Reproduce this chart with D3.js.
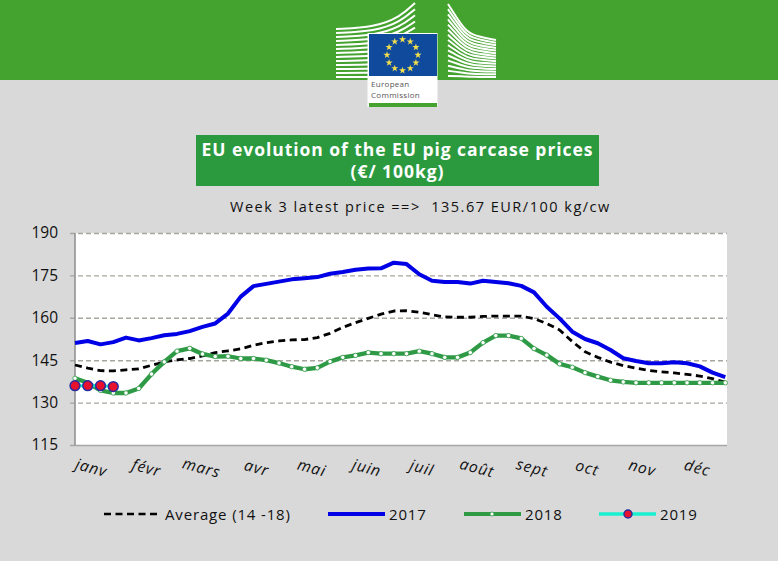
<!DOCTYPE html>
<html><head><meta charset="utf-8">
<script src="https://cdnjs.cloudflare.com/ajax/libs/d3/7.8.5/d3.min.js"></script>
<style>html,body{margin:0;padding:0;background:#d9d9d9}svg{display:block}text{font-family:"Open Sans",Lato,sans-serif}</style>
</head><body><svg id="c" width="778" height="561"></svg>
<script>
const months=["janv","févr","mars","avr","mai","juin","juil","août","sept","oct","nov","déc"];
const yTicks=[115,130,145,160,175,190];
const average=[143.3,142.2,141.3,141.2,141.6,141.9,143.2,144.4,145.1,145.6,146.5,147.7,148.3,149,150.3,151.2,151.8,152.2,152.3,153,154.5,156.6,158.3,159.8,161.3,162.4,162.5,162,161.1,160.3,160.2,160.2,160.5,160.6,160.6,160.6,159.7,158,155.7,151.6,148,146,144.3,143.1,142.2,141.4,140.9,140.5,140,139.4,138.5,137.2];
const s2017=[151.1,151.8,150.6,151.4,153,152,152.8,153.8,154.3,155.3,156.8,158,161.5,167.5,171.2,172,172.8,173.6,174,174.4,175.6,176.2,177,177.4,177.5,179.5,179,175.4,173.1,172.7,172.7,172.1,173.1,172.7,172.2,171.3,169,163.9,159.8,155.1,152.5,151,148.6,145.7,144.7,143.9,143.9,144.3,143.9,142.8,140.6,139];
const s2018=[138.6,137,134.3,133.4,133.4,135,140.1,144.4,148.2,149.2,147.2,146.3,146.4,145.6,145.6,145,144,142.7,141.8,142.3,144.5,146,146.7,147.7,147.3,147.3,147.3,148.2,147.3,146,146,147.7,151.2,153.7,153.7,152.7,149.1,146.8,143.7,142.5,140.6,139.2,137.9,137.3,137,137,137,137,137,137,137,137];
const s2019=[136,136,136,135.67];
const legendLabels=["Average (14 -18)","2017","2018","2019"];
const titleLines=["EU evolution of the EU pig carcase prices","(€/ 100kg)"];
const subtitle="Week 3 latest price ==>  135.67 EUR/100 kg/cw";

const svg=d3.select("#c");
const ink="#111";
svg.append("rect").attr("width",778).attr("height",561).attr("fill","#d9d9d9");
svg.append("rect").attr("width",778).attr("height",80).attr("fill","#44a32f");

const logo=svg.append("g");
const line=d3.line().curve(d3.curveBasis);
d3.range(13).forEach(k=>{
  const t=k/12, yb=77-t*48;
  logo.append("path").attr("fill","none").attr("stroke","#fff").attr("stroke-width",2)
   .attr("d",line([[336,yb],[375,yb-t*2],[400,yb-t*12],[415,yb-t*26]]));
});
d3.range(15).forEach(k=>{
  const t=k/14, yl=76-t*72, yr=77-t*37;
  logo.append("path").attr("fill","none").attr("stroke","#fff").attr("stroke-width",2)
   .attr("d",line([[448,yl],[462,yl+t*22],[470,yr-t*5],[496,yr]]));
});
logo.append("rect").attr("x",367.5).attr("y",33).attr("width",70).attr("height",74).attr("fill","#fff");
logo.append("rect").attr("x",369).attr("y",34).attr("width",68).attr("height",42).attr("fill","#0f4a9c");
logo.append("rect").attr("x",369).attr("y",103).attr("width",68).attr("height",4).attr("fill","#44a32f");
const star=d3.symbol().type(d3.symbolStar).size(16);
d3.range(12).forEach(i=>{
  const a=i/12*2*Math.PI;
  logo.append("path").attr("d",star).attr("fill","#f4e04d")
   .attr("transform",`translate(${402.5+15.5*Math.sin(a)},${55-15.5*Math.cos(a)})`);
});
logo.append("text").attr("x",371).attr("y",87).attr("font-size",8).attr("letter-spacing",0.3).attr("fill","#555").text("European");
logo.append("text").attr("x",371).attr("y",98).attr("font-size",8).attr("letter-spacing",0.3).attr("fill","#555").text("Commission");

svg.append("rect").attr("x",196).attr("y",135).attr("width",403).attr("height",51).attr("fill","#2b9a3f");
svg.selectAll("text.t").data(titleLines).join("text").attr("class","t")
  .attr("x",397.5).attr("y",(d,i)=>156+i*22).attr("text-anchor","middle")
  .attr("fill","#fff").attr("font-weight",700).attr("font-size",17.5).attr("letter-spacing",0.95).text(d=>d);
svg.append("text").attr("x",230).attr("y",212).attr("font-size",14.5).attr("letter-spacing",1.5)
  .attr("fill",ink).style("white-space","pre").text(subtitle);

const x=d3.scaleLinear().domain([0,51]).range([75,725.3]);
const y=d3.scaleLinear().domain([115,190]).range([445,233]);
svg.append("rect").attr("x",75).attr("y",233).attr("width",652).attr("height",212).attr("fill","#fff");
const gy=svg.append("g").attr("transform","translate(75,0)")
  .call(d3.axisLeft(y).tickValues(yTicks).tickSize(0).tickPadding(17).tickFormat(d3.format("d")));
gy.select(".domain").remove();
gy.selectAll("text").attr("font-size",15.5).attr("fill",ink).style("font-family","'Open Sans'");
gy.selectAll(".tick line").attr("x1",-5).attr("x2",652)
  .attr("stroke",d=>d===115?"#a6a6a6":"#a9a5a0").attr("stroke-width",d=>d===115?1.5:1.4)
  .attr("stroke-dasharray",d=>d===115?null:"5 3");
svg.append("line").attr("x1",75).attr("x2",75).attr("y1",233).attr("y2",445).attr("stroke","#8c8c8c").attr("stroke-width",1.5);

const mx=d3.scalePoint().domain(months).range([90,696]);
svg.selectAll("text.m").data(months).join("text").attr("class","m")
  .attr("text-anchor","middle").attr("font-size",15.5).attr("font-style","italic").attr("fill",ink)
  .attr("letter-spacing",0.9)
  .attr("transform",d=>`translate(${mx(d)},${473}) rotate(15)`).text(d=>d);

const path=d3.line().x((d,i)=>x(i)).y(d=>y(d));
const s1=svg.append("g").attr("fill","none").attr("stroke-linejoin","round");
s1.append("path").attr("d",path(s2017)).attr("stroke","#0000e6").attr("stroke-width",4);
s1.append("path").attr("d",path(average)).attr("stroke","#000").attr("stroke-width",2.8).attr("stroke-dasharray","7 4.5");
s1.append("path").attr("d",path(s2018)).attr("stroke","#2f9a45").attr("stroke-width",4.3);
svg.selectAll("circle.w").data(s2018).join("circle").attr("class","w")
  .attr("cx",(d,i)=>x(i)).attr("cy",d=>y(d)).attr("r",2.2).attr("fill","#fff").attr("stroke","#2f9a45").attr("stroke-width",0.8);
s1.append("path").attr("d",path(s2019)).attr("stroke","#19f0d0").attr("stroke-width",3);
svg.selectAll("circle.r").data(s2019).join("circle").attr("class","r")
  .attr("cx",(d,i)=>x(i)).attr("cy",d=>y(d)).attr("r",4.9).attr("fill","#e8112d").attr("stroke","#2a2aa0").attr("stroke-width",1.5);

const lx=[104,328,464,599], ly=514;
const lg=svg.append("g");
const lcol=["#000","#0000e6","#2f9a45","#19f0d0"], lw=[2.6,4,4,3.4];
legendLabels.forEach((t,i)=>{
  lg.append("line").attr("x1",lx[i]).attr("x2",lx[i]+57).attr("y1",ly).attr("y2",ly)
    .attr("stroke",lcol[i]).attr("stroke-width",lw[i]).attr("stroke-dasharray",i===0?"7 4.5":null);
  lg.append("text").attr("x",lx[i]+61).attr("y",ly+5.5).attr("font-size",15).attr("letter-spacing",0.85).attr("fill",ink).text(t);
});
lg.append("circle").attr("cx",492).attr("cy",ly).attr("r",2).attr("fill","#fff").attr("stroke","#2f9a45").attr("stroke-width",0.8);
lg.append("circle").attr("cx",628).attr("cy",ly).attr("r",4).attr("fill","#e8112d").attr("stroke","#2a2aa0").attr("stroke-width",1.4);
</script></body></html>
